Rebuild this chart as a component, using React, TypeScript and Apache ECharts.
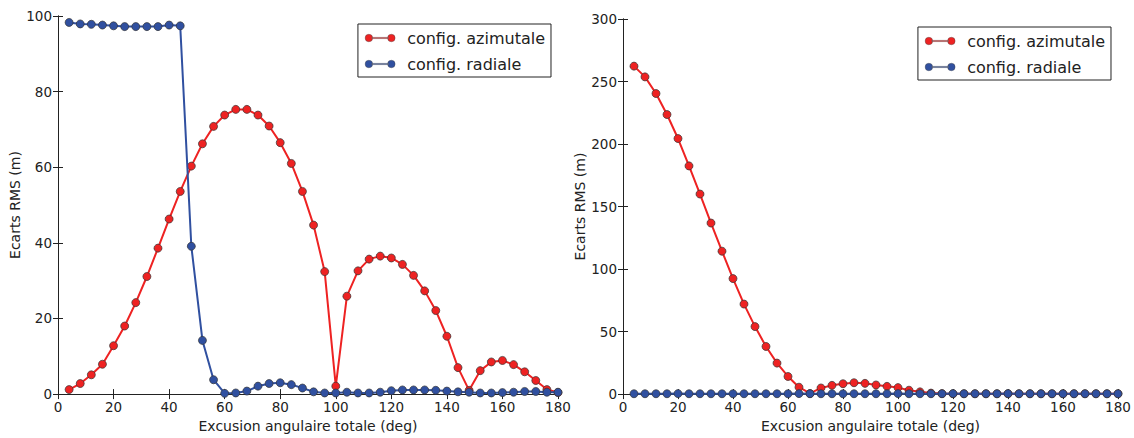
import React, { useEffect, useRef } from "react";
import * as echarts from "echarts";

const angles = [4, 8, 12, 16, 20, 24, 28, 32, 36, 40, 44, 48, 52, 56, 60, 64, 68, 72, 76, 80, 84, 88, 92, 96, 100, 104, 108, 112, 116, 120, 124, 128, 132, 136, 140, 144, 148, 152, 156, 160, 164, 168, 172, 176, 180];

const leftAzimutale = [1.2, 2.8, 5.1, 7.9, 12.8, 18.0, 24.2, 31.1, 38.6, 46.3, 53.6, 60.3, 66.2, 70.8, 73.8, 75.3, 75.3, 73.8, 70.9, 66.5, 61.0, 53.6, 44.7, 32.4, 2.1, 25.9, 32.6, 35.7, 36.5, 36.0, 34.3, 31.4, 27.3, 22.1, 15.3, 7.0, 1.0, 6.2, 8.5, 8.9, 7.8, 5.9, 3.6, 1.2, 0.4];
const leftRadiale = [98.3, 97.9, 97.8, 97.6, 97.4, 97.2, 97.2, 97.2, 97.2, 97.6, 97.4, 39.1, 14.2, 3.8, 0.2, 0.3, 0.8, 2.1, 2.8, 3.0, 2.5, 1.6, 0.6, 0.3, 0.3, 0.5, 0.3, 0.3, 0.5, 0.9, 1.1, 1.1, 1.1, 1.0, 0.8, 0.6, 0.5, 0.3, 0.3, 0.4, 0.5, 0.7, 0.7, 0.5, 0.5];

const rightAzimutale = [262.3, 253.7, 240.4, 223.6, 204.4, 182.5, 160.0, 136.8, 114.3, 92.4, 72.0, 54.0, 38.1, 24.8, 14.1, 5.5, 0.5, 4.9, 7.0, 8.3, 9.1, 8.6, 7.3, 6.2, 5.2, 3.1, 1.8, 0.8, 0.4, 0.3, 0.3, 0.3, 0.3, 0.3, 0.3, 0.3, 0.3, 0.3, 0.3, 0.3, 0.3, 0.3, 0.3, 0.3, 0.3];
const rightRadiale = [0.3, 0.3, 0.3, 0.3, 0.4, 0.3, 0.3, 0.3, 0.3, 0.3, 0.3, 0.3, 0.3, 0.3, 0.3, 0.4, 0.3, 0.3, 0.3, 0.3, 0.3, 0.3, 0.3, 0.3, 0.4, 0.3, 0.3, 0.3, 0.3, 0.4, 0.3, 0.3, 0.3, 0.3, 0.4, 0.3, 0.3, 0.3, 0.3, 0.3, 0.3, 0.3, 0.3, 0.3, 0.3];

const nameAz = "config. azimutale";
const nameRad = "config. radiale";
const xTitle = "Excusion angulaire totale (deg)";
const yTitle = "Ecarts RMS (m)";

const RED = "#ee2222";
const BLUE = "#3050a0";
const FONT = "DejaVu Sans";
const AXC = "#222";

const legendIcon = "path://M0,5 A5,5 0 1,0 10,5 A5,5 0 1,0 0,5 Z M9,4.2 L31,4.2 L31,5.8 L9,5.8 Z M30,5 A5,5 0 1,0 40,5 A5,5 0 1,0 30,5 Z";

function pairs(ys: number[]) {
  return angles.map((a, i) => [a, ys[i]]);
}

export default function App() {
  const ref = useRef<HTMLDivElement>(null);
  useEffect(() => {
    if (!ref.current) return;
    const chart = echarts.init(ref.current, null, { renderer: "svg" });

    const baseAxisLine = { show: true, lineStyle: { color: AXC, width: 1 } };
    const tick = { show: true, inside: true, length: 5, lineStyle: { color: AXC, width: 1 } };
    const label = { show: true, fontFamily: FONT, fontSize: 13.5, color: AXC, margin: 6 };

    const xMain = (gridIndex: number) => ({
      type: "value", gridIndex, min: 0, max: 180, interval: 20, position: "bottom",
      axisLine: baseAxisLine, axisTick: tick, axisLabel: label, splitLine: { show: false },
      name: xTitle, nameLocation: "middle", nameGap: 21,
      nameTextStyle: { fontFamily: FONT, fontSize: 14, color: AXC },
    });
    const xTop = (gridIndex: number) => ({
      type: "value", gridIndex, min: 0, max: 180, interval: 20, position: "top",
      axisLine: baseAxisLine, axisTick: tick, axisLabel: { show: false }, splitLine: { show: false },
    });
    const yMain = (gridIndex: number, max: number, interval: number, gap: number) => ({
      type: "value", gridIndex, min: 0, max, interval, position: "left",
      axisLine: baseAxisLine, axisTick: tick, axisLabel: label, splitLine: { show: false },
      name: yTitle, nameLocation: "middle", nameGap: gap, nameRotate: 90,
      nameTextStyle: { fontFamily: FONT, fontSize: 14, color: AXC },
    });
    const yRight = (gridIndex: number, max: number, interval: number) => ({
      type: "value", gridIndex, min: 0, max, interval, position: "right",
      axisLine: baseAxisLine, axisTick: tick, axisLabel: { show: false }, splitLine: { show: false },
    });

    const mkSeries = (name: string, color: string, data: number[][], xi: number, yi: number) => ({
      type: "line", name, xAxisIndex: xi, yAxisIndex: yi, data,
      symbol: "circle", symbolSize: 8, showSymbol: true,
      lineStyle: { color, width: 2 },
      itemStyle: { color, borderColor: "#333", borderWidth: 0.7 },
      emphasis: { disabled: true }, z: name === nameAz ? 2 : 3,
    });

    const legendBase = {
      orient: "vertical", selectedMode: false, icon: legendIcon,
      itemWidth: 30, itemHeight: 10, itemGap: 10,
      itemStyle: { borderWidth: 0.4, borderColor: "#444" },
      borderColor: "#222", borderWidth: 1, borderRadius: 0, padding: [6, 6, 5, 7],
      backgroundColor: "#fff",
      textStyle: { fontFamily: FONT, fontSize: 16, color: "#222", padding: [0, 0, 0, 7] },
      data: [nameAz, nameRad],
    };

    chart.setOption({
      animation: false,
      grid: [
        { left: 58, top: 16, width: 500, height: 388, containLabel: false },
        { left: 623, top: 19, width: 495, height: 383, containLabel: false },
      ],
      xAxis: [xMain(0), xTop(0), xMain(1), xTop(1)],
      yAxis: [yMain(0, 100, 20, 34), yRight(0, 100, 20), yMain(1, 300, 50, 32), yRight(1, 300, 50)],
      legend: [
        { ...legendBase, right: 1134 - 551, top: 24 },
        { ...legendBase, right: 1134 - 1111, top: 27 },
      ],
      series: [
        mkSeries(nameAz, RED, pairs(leftAzimutale), 0, 0),
        mkSeries(nameRad, BLUE, pairs(leftRadiale), 0, 0),
        mkSeries(nameAz, RED, pairs(rightAzimutale), 2, 2),
        mkSeries(nameRad, BLUE, pairs(rightRadiale), 2, 2),
      ],
    });
    return () => chart.dispose();
  }, []);
  return <div ref={ref} style={{ position: "fixed", left: 0, top: 0, width: 1134, height: 438, background: "#fff" }} />;
}
